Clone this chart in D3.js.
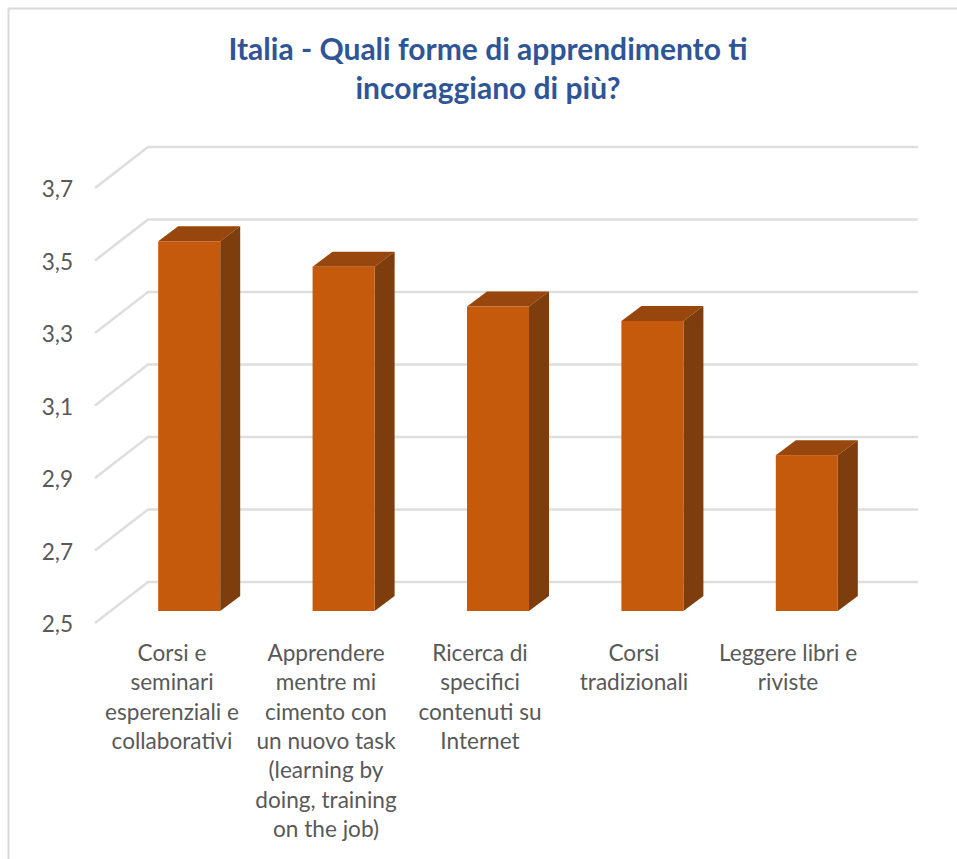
<!DOCTYPE html>
<html>
<head>
<meta charset="utf-8">
<script src="https://cdn.jsdelivr.net/npm/d3@7"></script>
<style>
  html, body { margin: 0; padding: 0; background: #fff; }
  svg { display: block; }
  text { font-family: Lato, "Open Sans", sans-serif; }
</style>
</head>
<body>
<div id="chart"></div>
<script>
// chart data
var categories = [
  "Corsi e seminari esperenziali e collaborativi",
  "Apprendere mentre mi cimento con un nuovo task (learning by doing, training on the job)",
  "Ricerca di specifici contenuti su Internet",
  "Corsi tradizionali",
  "Leggere libri e riviste"
];
var values = [3.52, 3.45, 3.34, 3.30, 2.93];
var tickValues = [2.5, 2.7, 2.9, 3.1, 3.3, 3.5, 3.7];
var titleLines = ["Italia - Quali forme di apprendimento ti", "incoraggiano di più?"];
var categoryLines = [
  ["Corsi e", "seminari", "esperenziali e", "collaborativi"],
  ["Apprendere", "mentre mi", "cimento con", "un nuovo task", "(learning by", "doing, training", "on the job)"],
  ["Ricerca di", "specifici", "contenuti su", "Internet"],
  ["Corsi", "tradizionali"],
  ["Leggere libri e", "riviste"]
];

var width = 957;
var height = 859;

var svg = d3.select("#chart").append("svg")
  .attr("width", width)
  .attr("height", height);

// slight softening, the reference is a scaled screenshot
var defs = svg.append("defs");
defs.append("filter").attr("id", "soft")
  .append("feGaussianBlur").attr("stdDeviation", 0.6);

// outer frame, only top and left show
svg.append("path")
  .attr("d", "M8.5,859V8.5H957")
  .attr("fill", "none")
  .attr("stroke", "#d9d9d9")
  .attr("stroke-width", 2);

// scales are for the front plane of the fake 3d box
var x = d3.scaleBand().domain(categories).range([95, 865]);
// bars sit a touch wider apart than the labels in the reference
var xBar = d3.scaleBand().domain(categories).range([95, 867]);
var y = d3.scaleLinear().domain([2.5, 3.7]).range([623, 188]);

// oblique offsets for the 3d look
var wallDx = 53, wallDy = -41, wallRight = 918;
var barDx = 17, barDy = -12, sideDx = 20, sideDy = -15;
var barWidth = 62;

// gridlines: floor/side diagonal then along the back wall
svg.append("g")
  .attr("filter", "url(#soft)")
  .selectAll("path")
  .data(tickValues)
  .enter()
  .append("path")
  .attr("fill", "none")
  .attr("stroke", "#dedede")
  .attr("stroke-width", 2.6)
  .attr("d", function(d) {
    var py = y(d);
    return "M" + x.range()[0] + "," + py +
      "L" + (x.range()[0] + wallDx) + "," + (py + wallDy) +
      "H" + wallRight;
  });

// bars
var bars = svg.append("g")
  .selectAll("g")
  .data(categories)
  .enter()
  .append("g")
  .attr("filter", "url(#soft)");

function barLeft(i) {
  return xBar(categories[i]) + xBar.bandwidth() / 2 + barDx - barWidth / 2;
}

// top face
bars.append("path")
  .attr("fill", "#974709")
  .attr("d", function(d, i) {
    var l = barLeft(i), t = y(values[i]) + barDy;
    return "M" + l + "," + t + "l" + sideDx + "," + sideDy + "h" + barWidth +
      "l" + (-sideDx) + "," + (-sideDy) + "z";
  });

// side face
bars.append("path")
  .attr("fill", "#7e3c08")
  .attr("d", function(d, i) {
    var r = barLeft(i) + barWidth, t = y(values[i]) + barDy, b = y(2.5) + barDy;
    return "M" + r + "," + t + "l" + sideDx + "," + sideDy + "V" + (b + sideDy) +
      "l" + (-sideDx) + "," + (-sideDy) + "z";
  });

// front face
bars.append("rect")
  .attr("fill", "#c55a11")
  .attr("x", function(d, i) { return barLeft(i); })
  .attr("y", function(d, i) { return y(values[i]) + barDy; })
  .attr("width", barWidth)
  .attr("height", function(d, i) { return y(2.5) - y(values[i]); });

// y axis labels
svg.append("g")
  .selectAll("text")
  .data(tickValues)
  .enter()
  .append("text")
  .attr("x", 73)
  .attr("y", function(d) { return y(d) + 9; })
  .attr("text-anchor", "end")
  .attr("font-size", 22.6)
  .attr("fill", "#595959")
  .text(function(d) { return d3.format(".1f")(d).replace(".", ","); });

// category labels
var catLabels = svg.append("g")
  .selectAll("text")
  .data(categories)
  .enter()
  .append("text")
  .attr("text-anchor", "middle")
  .attr("font-size", 22.6)
  .attr("fill", "#595959");

catLabels.selectAll("tspan")
  .data(function(d, i) {
    return categoryLines[i].map(function(line) { return { line: line, cat: d }; });
  })
  .enter()
  .append("tspan")
  .attr("x", function(d) { return x(d.cat) + x.bandwidth() / 2; })
  .attr("y", function(d, i) { return 661 + i * 29.3; })
  .text(function(d) { return d.line; });

// title
svg.append("g")
  .selectAll("text")
  .data(titleLines)
  .enter()
  .append("text")
  .attr("x", 488)
  .attr("y", function(d, i) { return 60 + i * 39; })
  .attr("text-anchor", "middle")
  .attr("font-size", 30)
  .attr("font-weight", 700)
  .attr("fill", "#2f5597")
  .text(function(d) { return d; });
</script>
</body>
</html>
